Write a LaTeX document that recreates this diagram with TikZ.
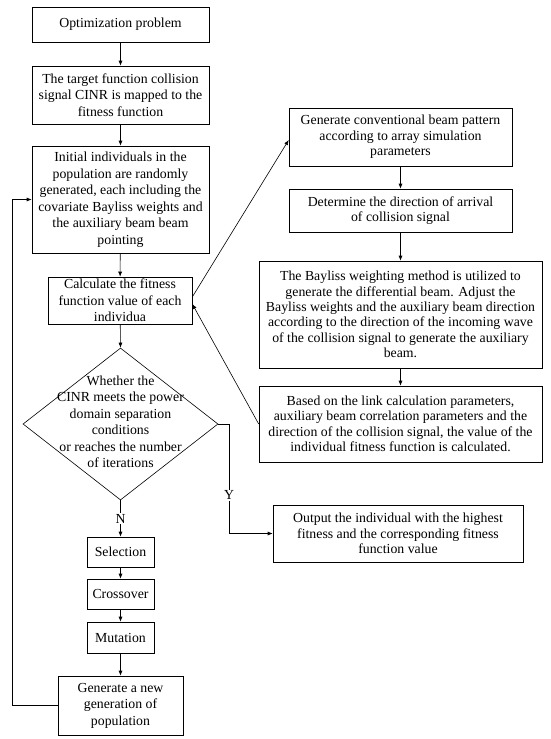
\documentclass[tikz,border=0pt]{standalone}
\usepackage{fontspec}
\setmainfont{Liberation Serif}
\usetikzlibrary{arrows.meta,shapes.geometric}
\begin{document}
\begin{tikzpicture}[x=1pt,y=-1pt,
  box/.style={draw, line width=0.6pt, inner sep=0pt, align=center,
    font=\fontsize{13.8}{16.5}\selectfont},
  rbox/.style={box, font=\fontsize{13.8}{15.4}\selectfont},
  arr/.style={draw, line width=0.6pt, -{Latex[length=5pt,width=4pt]}},
  lbl/.style={fill=white, inner sep=1pt, font=\fontsize{13.8}{16.5}\selectfont}]
\useasboundingbox (0,0) rectangle (550,739);
\fill[white] (0,0) rectangle (550,739);
% left column
\node[box, minimum width=177pt, minimum height=35pt] (opt) at (120.5,24.5) {Optimization problem};
\node[box, minimum width=177pt, minimum height=58pt] (tgt) at (120.5,95) {The target function collision\\signal CINR is mapped to the\\fitness function};
\node[box, minimum width=177pt, minimum height=107pt] (init) at (120.5,199.5) {Initial individuals in the\\population are randomly\\generated, each including the\\covariate Bayliss weights and\\the auxiliary beam beam\\pointing};
\node[box, minimum width=144pt, minimum height=47pt] (calc) at (120,300.5) {Calculate the fitness\\function value of each\\individua};
\node[draw, line width=0.6pt, shape=diamond, inner sep=0pt, minimum width=195pt, minimum height=152pt] (dia) at (120.5,424) {};
\node[align=center, inner sep=0pt, font=\fontsize{13.8}{16.5}\selectfont] (diatext) at (120.5,422) {Whether the\\CINR meets the power\\domain separation\\conditions\\or reaches the number\\of iterations};
\node[box, minimum width=67pt, minimum height=30pt] (sel) at (120.5,552) {Selection};
\node[box, minimum width=67pt, minimum height=30pt] (cro) at (120.5,594) {Crossover};
\node[box, minimum width=67pt, minimum height=31pt] (mut) at (120.5,637.5) {Mutation};
\node[box, minimum width=125pt, minimum height=59pt] (gen) at (120.5,705.5) {Generate a new\\generation of\\population};
% right column
\node[rbox, minimum width=223pt, minimum height=58pt] (r1) at (400.5,137) {Generate conventional beam pattern\\according to array simulation\\parameters};
\node[rbox, minimum width=223pt, minimum height=43pt] (r2) at (400.5,210.5) {Determine the direction of arrival\\of collision signal};
\node[rbox, minimum width=283pt, minimum height=107pt] (r3) at (400.5,314.5) {The Bayliss weighting method is utilized to\\generate the differential beam. Adjust the\\Bayliss weights and the auxiliary beam direction\\according to the direction of the incoming wave\\of the collision signal to generate the auxiliary\\beam.};
\node[rbox, minimum width=283pt, minimum height=76pt] (r4) at (400.5,424) {Based on the link calculation parameters,\\auxiliary beam correlation parameters and the\\direction of the collision signal, the value of the\\individual fitness function is calculated.};
\node[rbox, minimum width=250pt, minimum height=57pt] (out) at (398,533.5) {Output the individual with the highest\\fitness and the corresponding fitness\\function value};
% connectors
\draw[arr] (opt) -- (tgt);
\draw[arr] (tgt) -- (init);
\draw[arr] (init) -- (calc);
\draw[arr] (calc) -- (dia.north);
\draw[arr] (dia.south) -- node[lbl, pos=0.51] {N} (sel);
\draw[arr] (sel) -- (cro);
\draw[arr] (cro) -- (mut);
\draw[arr] (mut) -- (gen);
\coordinate (lp) at (12,705.5);
\draw[arr] (gen.west) -- (lp) |- (init.west);
\coordinate (yc) at (229,533.5);
\draw[arr] (dia.east) -- (dia.east -| yc) -- node[lbl, pos=0.65] {Y} (yc) -- (out.west);
\draw[arr] ([yshift=3.5pt]calc.east) -- ([yshift=-3pt]r1.west);
\draw[arr] (r1) -- (r2);
\draw[arr] (r2) -- (r3);
\draw[arr] (r3) -- (r4);
\draw[arr] (r4.west) -- ([yshift=-3.5pt]calc.east);
\end{tikzpicture}
\end{document}
